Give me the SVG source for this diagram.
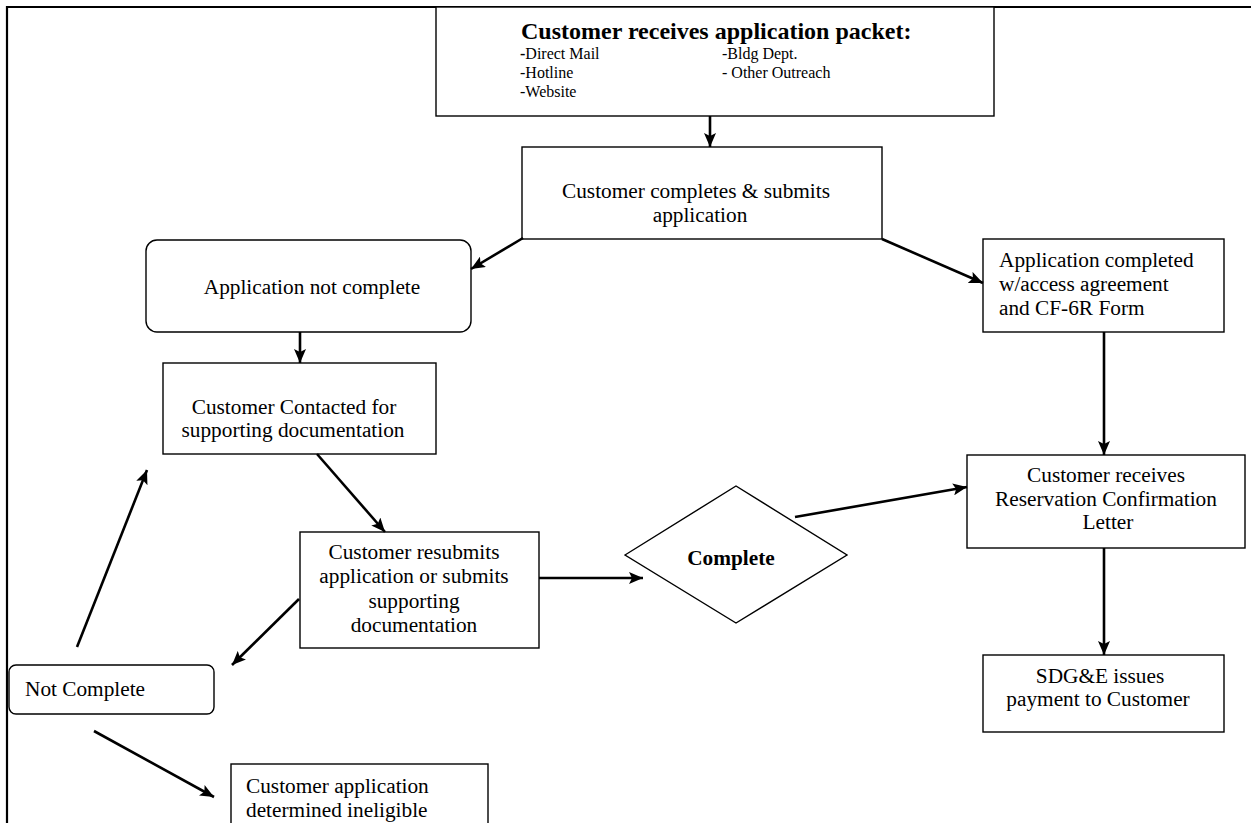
<svg xmlns="http://www.w3.org/2000/svg" width="1251" height="823" viewBox="0 0 1251 823">
<style>
text{font-family:"Liberation Serif","Times New Roman",serif;fill:#000;font-size:21.3px}
.box{fill:#fff;stroke:#000;stroke-width:1.4}
.frame{fill:none;stroke:#000;stroke-width:2.2}
.c{text-anchor:middle}
.b{font-weight:bold}
.s{font-size:16px}
.conn line{stroke:#000;stroke-width:2.6;marker-end:url(#ah)}
</style>
<defs>
<marker id="ah" markerUnits="userSpaceOnUse" markerWidth="14" markerHeight="12" viewBox="0 0 14 12" refX="14" refY="6" orient="auto">
<path d="M0,0 L14,6 L0,12 L3,6 z" fill="#000"/>
</marker>
</defs>
<rect width="1251" height="823" fill="#fff"/>
<g id="frame">
<path class="frame" d="M7,823 V7 H1251"/>
</g>
<g id="n-packet">
<rect class="box" x="436" y="7" width="558" height="109"/>
<text class="b" x="521" y="39" style="font-size:24px">Customer receives application packet:</text>
<text class="s" x="520" y="59"><tspan class="b">-</tspan>Direct Mail</text>
<text class="s" x="520" y="78">-Hotline</text>
<text class="s" x="520" y="97">-Website</text>
<text class="s" x="722" y="59">-Bldg Dept.</text>
<text class="s" x="722" y="78">- Other Outreach</text>
</g>
<g id="n-submit">
<rect class="box" x="522" y="147" width="360" height="92"/>
<text class="c" x="696" y="198">Customer completes &amp; submits</text>
<text class="c" x="700" y="222">application</text>
</g>
<g id="n-notcomplete">
<rect class="box" x="146" y="240" width="325" height="92" rx="11"/>
<text class="c" x="312" y="294">Application not complete</text>
</g>
<g id="n-contacted">
<rect class="box" x="163" y="363" width="273" height="91"/>
<text class="c" x="294" y="414">Customer Contacted for</text>
<text class="c" x="293" y="437">supporting documentation</text>
</g>
<g id="n-resubmit">
<rect class="box" x="300" y="532" width="239" height="116"/>
<text class="c" x="414" y="559">Customer resubmits</text>
<text class="c" x="414" y="583">application or submits</text>
<text class="c" x="414" y="608">supporting</text>
<text class="c" x="414" y="632">documentation</text>
</g>
<g id="n-complete">
<polygon class="box" points="625,555 736,486 847,555 736,623"/>
<text class="c b" x="731" y="565">Complete</text>
</g>
<g id="n-completed">
<rect class="box" x="983" y="239" width="241" height="93"/>
<text x="999" y="267">Application completed</text>
<text x="999" y="291">w/access agreement</text>
<text x="999" y="315">and CF-6R Form</text>
</g>
<g id="n-reservation">
<rect class="box" x="967" y="455" width="278" height="93"/>
<text class="c" x="1106" y="482">Customer receives</text>
<text class="c" x="1106" y="506">Reservation Confirmation</text>
<text class="c" x="1108" y="529">Letter</text>
</g>
<g id="n-payment">
<rect class="box" x="983" y="655" width="241" height="77"/>
<text class="c" x="1100" y="683">SDG&amp;E issues</text>
<text class="c" x="1098" y="706">payment to Customer</text>
</g>
<g id="n-notcomplete2">
<rect class="box" x="9" y="665" width="205" height="49" rx="7"/>
<text x="25" y="696">Not Complete</text>
</g>
<g id="n-ineligible">
<rect class="box" x="231" y="764" width="257" height="80"/>
<text x="246" y="793">Customer application</text>
<text x="246" y="817">determined ineligible</text>
</g>
<g id="connectors" class="conn">
<line x1="710" y1="116" x2="710" y2="147"/>
<line x1="523" y1="238" x2="471" y2="269"/>
<line x1="882" y1="239" x2="983" y2="283"/>
<line x1="300" y1="332" x2="300" y2="363"/>
<line x1="317" y1="454" x2="385" y2="532"/>
<line x1="539" y1="578" x2="643" y2="578"/>
<line x1="795" y1="517" x2="967" y2="487"/>
<line x1="1104" y1="332" x2="1104" y2="455"/>
<line x1="1104" y1="548" x2="1104" y2="655"/>
<line x1="299" y1="599" x2="232" y2="665"/>
<line x1="77" y1="647" x2="147" y2="470"/>
<line x1="94" y1="731" x2="214" y2="797"/>
</g>
</svg>
